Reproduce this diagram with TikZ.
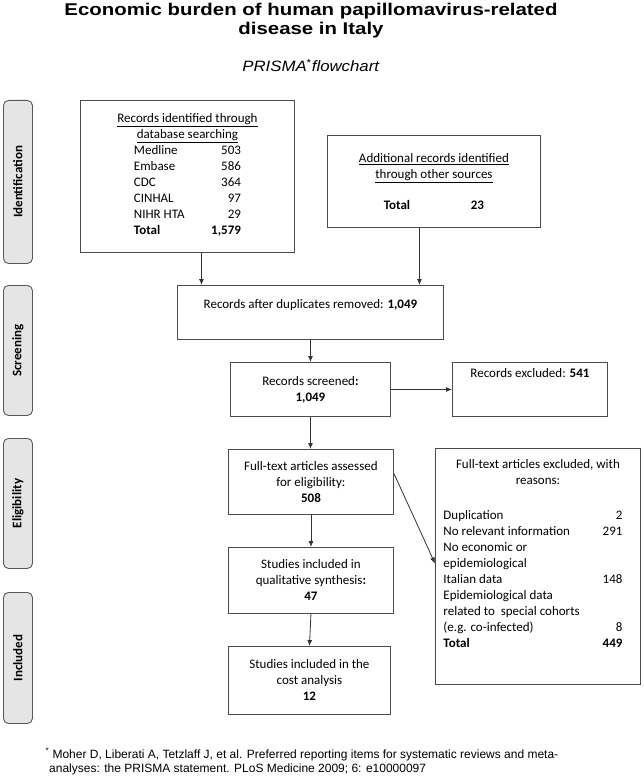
\documentclass[tikz,border=0pt]{standalone}
\usepackage{fontspec}
\setmainfont{Carlito}
\newfontfamily\arialfont{Liberation Sans}
\usetikzlibrary{arrows.meta}

\begin{document}
\begin{tikzpicture}[x=1pt,y=-1pt,
  box/.style={draw=black!70, line width=0.9pt, anchor=north west, inner sep=0pt, align=center, font=\fontsize{13}{16}\selectfont},
  phase/.style={draw=black!65, fill=black!10, rounded corners=5pt, line width=0.9pt, anchor=north west, inner sep=0pt, minimum width=29pt},
  phasetxt/.style={rotate=90, font=\fontsize{13}{16}\selectfont\bfseries},
  arr/.style={-{Latex[length=6pt,width=5pt]}, draw=black!80, line width=0.8pt}]
\useasboundingbox (0,0) rectangle (644,778);

% title
\node[anchor=base, font=\arialfont\bfseries\fontsize{17}{19}\selectfont] (title1) at (311,16) {\scalebox{1.2}[1]{Economic burden of human papillomavirus-related}};
\node[anchor=base, font=\arialfont\bfseries\fontsize{17}{19}\selectfont] (title2) at (311,35) {\scalebox{1.2}[1]{disease in Italy}};
\node[anchor=base, font=\arialfont\fontsize{15}{17}\selectfont] (subtitle) at (311,72) {\scalebox{1.12}[1]{\textit{PRISMA}\textsuperscript{*}\textit{flowchart}}};

% phases
\node[phase, minimum height=163pt] (ident) at (3,100) {};
\node[phasetxt] (identtxt) at (ident) {Identification};
\node[phase, minimum height=130pt] (screen) at (3,285) {};
\node[phasetxt] (screentxt) at (screen) {Screening};
\node[phase, minimum height=130pt] (elig) at (3,438) {};
\node[phasetxt] (eligtxt) at (elig) {Eligibility};
\node[phase, minimum height=131pt] (incl) at (3,592) {};
\node[phasetxt] (incltxt) at (incl) {Included};

% boxes
\node[box, minimum width=214pt, minimum height=152pt] (db) at (80,100) {\underline{Records identified through}\\
  \underline{database searching}\\
  \begin{tabular*}{107pt}{@{\extracolsep{\fill}}lr@{}}
  Medline & 503\\
  Embase & 586\\
  CDC & 364\\
  CINHAL & 97\\
  NIHR HTA & 29\\
  \textbf{Total} & \textbf{1,579}
  \end{tabular*}};
\node[box, minimum width=213pt, minimum height=92pt] (other) at (327,135) {\underline{Additional records identified}\\
  \underline{through other sources}\\[15pt]
  \makebox[87pt][l]{\textbf{Total}}\textbf{23}};
\node[box, minimum width=266pt, minimum height=54pt] (dup) at (177,285) {Records after duplicates removed: \textbf{1,049}\\~};
\node[box, minimum width=160pt, minimum height=54pt] (scr) at (230,362) {Records screened\textbf{:}\\\textbf{1,049}};
\node[box, minimum width=155pt, minimum height=54pt] (exc) at (452,362) {Records excluded: \textbf{541}\\~\\~};
\node[box, minimum width=165pt, minimum height=65pt] (full) at (228,449) {Full-text articles assessed\\for eligibility:\\\textbf{508}};
\node[box, minimum width=165pt, minimum height=66pt] (qual) at (228,547) {Studies included in\\qualitative synthesis\textbf{:}\\\textbf{47}};
\node[box, minimum width=162pt, minimum height=68pt] (cost) at (228,646) {Studies included in the\\cost analysis\\\textbf{12}};
\node[box, minimum width=205pt, minimum height=236pt] (rsn) at (435,448) {Full-text articles excluded, with\\reasons:\\[23pt]
  \hspace*{-10pt}\begin{tabular*}{179pt}{@{\extracolsep{\fill}}lr@{}}
  Duplication & 2\\
  No relevant information & 291\\
  No economic or & \\
  epidemiological & \\
  Italian data & 148\\
  Epidemiological data & \\
  related to\ \ special cohorts & \\
  (e.g. co-infected) & 8\\
  \textbf{Total} & \textbf{449}
  \end{tabular*}\\[20pt]~};

% arrows
\draw[arr] ([xshift=14pt]db.south) -- ([xshift=14pt]db.south |- dup.north);
\draw[arr] ([xshift=-14.5pt]other.south) -- ([xshift=-14.5pt]other.south |- dup.north);
\draw[arr] (dup.south) -- (scr.north);
\draw[arr] (scr.east) -- (exc.west);
\draw[arr] (scr.south) -- (scr.south |- full.north);
\draw[arr] (full.south) -- (full.south |- qual.north);
\draw[arr] (qual.south) -- (cost.north);
\draw[arr] ([yshift=8.5pt]full.east) -- ([yshift=3pt]rsn.west);

% footnote
\node[anchor=north west, inner sep=0pt, align=left, font=\arialfont\fontsize{12}{14.5}\selectfont] (note) at (49,748) {\llap{\textsuperscript{*}}~Moher D, Liberati A, Tetzlaff J, et al. Preferred reporting items for systematic reviews and meta-\\analyses: the PRISMA statement. PLoS Medicine 2009; 6: e10000097};
\end{tikzpicture}
\end{document}
